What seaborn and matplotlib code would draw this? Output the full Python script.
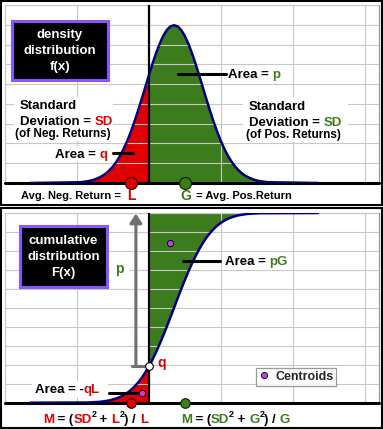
import numpy as np
import matplotlib
matplotlib.use("Agg")
import matplotlib.pyplot as plt
import seaborn as sns
from matplotlib.patches import Rectangle
from matplotlib.lines import Line2D

x_vals = [-1.65,
          -0.95, -0.90, -0.85, -0.80, -0.75, -0.70, -0.65, -0.60, -0.55, -0.50,
          -0.45, -0.40, -0.35, -0.30, -0.25, -0.20, -0.15, -0.10, -0.05, 0.00,
          0.05, 0.10, 0.15, 0.20, 0.25, 0.30, 0.35, 0.40, 0.45, 0.50,
          0.55, 0.60, 0.65, 0.70, 0.75, 0.80, 0.85, 0.90, 0.95, 1.00,
          1.05, 1.10, 1.15, 1.20, 1.25, 1.30, 1.35, 1.40, 1.45, 1.50,
          1.55, 1.60, 1.65,
          2.35]

# density f(x)
density = [0.0,
           0.005, 0.008, 0.011, 0.016, 0.023, 0.032, 0.044, 0.059, 0.079, 0.104,
           0.135, 0.172, 0.216, 0.266, 0.324, 0.388, 0.457, 0.530, 0.605, 0.680,
           0.753, 0.820, 0.880, 0.930, 0.967, 0.990, 0.997, 0.990, 0.967, 0.930,
           0.880, 0.820, 0.753, 0.680, 0.605, 0.530, 0.457, 0.388, 0.324, 0.266,
           0.216, 0.172, 0.135, 0.104, 0.079, 0.059, 0.044, 0.032, 0.023, 0.016,
           0.011, 0.008, 0.005,
           0.0]

# cumulative F(x)
cumulative = [0.0,
              0.001, 0.001, 0.001, 0.002, 0.003, 0.004, 0.006, 0.009, 0.012, 0.017,
              0.023, 0.030, 0.040, 0.052, 0.067, 0.085, 0.106, 0.130, 0.159, 0.191,
              0.227, 0.266, 0.309, 0.354, 0.401, 0.450, 0.500, 0.550, 0.599, 0.646,
              0.692, 0.734, 0.773, 0.809, 0.841, 0.870, 0.894, 0.915, 0.933, 0.948,
              0.960, 0.970, 0.977, 0.983, 0.988, 0.991, 0.994, 0.996, 0.997, 0.998,
              0.999, 0.999, 0.999,
              1.0]

avg_neg = -0.25   # L
avg_pos = 0.50    # G
centroid_x = [-0.10, 0.30]
centroid_y = [0.05, 0.84]

RED = '#e00000'
GREEN = '#3c7c1c'
NAVY = '#000080'
PURPLE = '#c040f0'
BOXEDGE = '#8855ff'
GRAY = '#707070'

W, H = 383, 429


def fxy(px, py):
    return px / W, 1 - py / H


sns.set_theme(style='whitegrid', rc={'grid.color': '#c8c8c8', 'grid.linewidth': 0.8,
                                     'axes.edgecolor': '#909090', 'axes.linewidth': 0.8})
plt.rcParams['font.family'] = ['Liberation Sans', 'DejaVu Sans']

fig = plt.figure(figsize=(W / 100, H / 100), dpi=100)
ax1 = fig.add_axes([5 / W, 1 - 183 / H, 374 / W, 178 / H])
ax2 = fig.add_axes([5 / W, 1 - 402.7 / H, 374 / W, 189.7 / H])

xs = np.array(x_vals)
d = np.array(density)
c = np.array(cumulative)
neg = xs <= 0
pos = xs >= 0
q = cumulative[x_vals.index(0.0)]

for ax in (ax1, ax2):
    ax.set_xlim(-2.0, 3.2)
    ax.set_xticks([-2, -1, 0, 1, 2, 3])
    ax.tick_params(left=False, bottom=False, labelleft=False, labelbottom=False)
    ax.set_axisbelow(False)
    ax.set_xlabel('')
    ax.set_ylabel('')

ax1.set_ylim(0, 1.125)
ax1.set_yticks(np.linspace(0, 1.125, 10))
ax2.set_ylim(0, 1.0)
ax2.set_yticks(np.linspace(0, 1.0, 11))

# --- density panel ---
ax1.fill_between(xs, 0, d, where=neg, color=RED, lw=0, zorder=1)
ax1.fill_between(xs, 0, d, where=pos, color=GREEN, lw=0, zorder=1)
sns.lineplot(x=x_vals, y=density, ax=ax1, color=NAVY, lw=1.8, zorder=5)
ax1.axvline(0, color='black', lw=1.6, zorder=4)
ax1.axhline(0, color='black', lw=2.2, zorder=4, clip_on=False)
sns.scatterplot(x=[avg_neg], y=[0], ax=ax1, color=RED, s=75, edgecolor='#300000',
                linewidth=0.8, zorder=6, clip_on=False)
sns.scatterplot(x=[avg_pos], y=[0], ax=ax1, color=GREEN, s=75, edgecolor='#102000',
                linewidth=0.8, zorder=6, clip_on=False)
ax1.plot([-0.50, -0.22], [0.19, 0.19], color='black', lw=2.2, zorder=7)
ax1.plot([0.41, 1.07], [0.689, 0.689], color='black', lw=2.2, zorder=7)

# --- cumulative panel ---
ax2.fill_between(xs, 0, c, where=neg, color=RED, lw=0, zorder=1)
ax2.fill_between(xs, c, 1, where=pos, color=GREEN, lw=0, zorder=1)
sns.lineplot(x=x_vals, y=cumulative, ax=ax2, color=NAVY, lw=1.8, zorder=5)
ax2.axvline(0, color='black', lw=1.6, zorder=4)
ax2.axhline(0, color='black', lw=2.2, zorder=4, clip_on=False)
ax2.annotate('', xy=(-0.18, 0.997), xytext=(-0.18, q),
             arrowprops=dict(arrowstyle='-|>,head_length=0.45,head_width=0.3',
                             color=GRAY, lw=2.2, shrinkA=0, shrinkB=0), zorder=4)
ax2.plot([-0.23, -0.02], [q, q], color=GRAY, lw=2.2, zorder=4)
sns.scatterplot(x=[avg_neg], y=[0], ax=ax2, color=RED, s=48, edgecolor='#300000',
                linewidth=0.8, zorder=6, clip_on=False)
sns.scatterplot(x=[avg_pos], y=[0], ax=ax2, color=GREEN, s=48, edgecolor='#102000',
                linewidth=0.8, zorder=6, clip_on=False)
ax2.plot([0], [q], 'o', ms=5.5, mfc='white', mec='black', mew=0.8, zorder=7)
sns.scatterplot(x=centroid_x, y=centroid_y, ax=ax2, color=PURPLE, s=20,
                edgecolor='black', linewidth=0.6, zorder=7)
ax2.plot([-0.55, -0.16], [0.052, 0.052], color='black', lw=2.2, zorder=7)
ax2.plot([0.47, 0.99], [0.747, 0.747], color='black', lw=2.2, zorder=7)

handle = Line2D([], [], marker='o', ls='', mfc=PURPLE, mec='black', mew=0.6, ms=4.5)
leg = ax2.legend([handle], ['Centroids'], loc='upper left',
                 bbox_to_anchor=fxy(255.7, 367.7), bbox_transform=fig.transFigure,
                 frameon=True, fancybox=False, borderpad=0.25, handlelength=0.8,
                 handletextpad=0.5, borderaxespad=0,
                 prop={'size': 9, 'weight': 'bold'})
leg.get_frame().set_edgecolor('#808080')
leg.get_frame().set_linewidth(0.9)

# --- frames, boxes, white patches behind labels ---
fig.add_artist(Rectangle(fxy(1, 205.5), 380.5 / W, 204.5 / H, transform=fig.transFigure,
                         fill=False, ec='black', lw=1.5))
fig.add_artist(Rectangle(fxy(1, 427.5), 380.5 / W, 219 / H, transform=fig.transFigure,
                         fill=False, ec='black', lw=1.5))
for (x0, y0, x1, y1) in [(14, 97, 113, 141), (243, 97, 348, 142), (52, 146, 111, 162),
                         (32, 381, 108, 397), (110, 263, 129, 277)]:
    fig.add_artist(Rectangle(fxy(x0, y1), (x1 - x0) / W, (y1 - y0) / H,
                             transform=fig.transFigure, fc='white', ec='none', zorder=1))
fig.add_artist(Rectangle(fxy(12, 80), 96 / W, 59 / H, transform=fig.transFigure,
                         fc='black', ec=BOXEDGE, lw=2.2, zorder=2))
fig.add_artist(Rectangle(fxy(20, 287), 87 / W, 61 / H, transform=fig.transFigure,
                         fc='black', ec=BOXEDGE, lw=2.2, zorder=2))

renderer = fig.canvas.get_renderer()


def advance(s, size):
    probe = fig.text(0, 0, '|' + s + '|', fontsize=size, fontweight='bold')
    ref = fig.text(0, 0, '||', fontsize=size, fontweight='bold')
    w = probe.get_window_extent(renderer).width - ref.get_window_extent(renderer).width
    probe.remove()
    ref.remove()
    return w


def rich_text(px, py, parts, size, ha='left'):
    x = px
    for s, col, sup in parts:
        fs = size * 0.68 if sup else size
        y = py - 5.5 if sup else py
        fig.text(*fxy(x, y), s, fontsize=fs, fontweight='bold', color=col,
                 ha='left', va='baseline', zorder=3)
        x += advance(s, fs)


def label(px, py, s, size, color='black', ha='left'):
    fig.text(*fxy(px, py), s, fontsize=size, fontweight='bold', color=color,
             ha=ha, va='baseline', zorder=3)


# top panel text
label(60, 38.3, 'density', 9.5, 'white', 'center')
label(60, 54, 'distribution', 9.5, 'white', 'center')
label(60, 70, 'f(x)', 9.5, 'white', 'center')
label(20, 109.3, 'Standard', 9.5)
rich_text(20, 125, [('Deviation = ', 'black', 0), ('SD', RED, 0)], 9.5)
label(15, 136.7, '(of Neg. Returns)', 8.5)
rich_text(55, 158.3, [('Area = ', 'black', 0), ('q', RED, 0)], 9.5)
rich_text(228, 78.3, [('Area = ', 'black', 0), ('p', GREEN, 0)], 9.5)
label(249, 110, 'Standard', 9.5)
rich_text(249, 126, [('Deviation = ', 'black', 0), ('SD', GREEN, 0)], 9.5)
label(246, 138, '(of Pos. Returns)', 8.5)
label(21, 199, 'Avg. Neg. Return =', 8)
label(131, 200, 'L', 10, RED, 'center')
label(186, 200, 'G', 10, GREEN, 'center')
label(196, 199, '= Avg. Pos.Return', 8)

# bottom panel text
label(63.5, 244.3, 'cumulative', 9.5, 'white', 'center')
label(63.5, 260, 'distribution', 9.5, 'white', 'center')
label(63.5, 276, 'F(x)', 9.5, 'white', 'center')
label(119.5, 272.7, 'p', 10, GREEN, 'center')
label(157, 367.3, 'q', 10, RED)
rich_text(35, 393.3, [('Area = -', 'black', 0), ('qL', RED, 0)], 9.5)
rich_text(225, 265, [('Area = ', 'black', 0), ('pG', GREEN, 0)], 9.5)
rich_text(43, 422.7, [('M', RED, 0), (' = (', 'black', 0), ('SD', RED, 0), ('2', 'black', 1),
                      (' + ', 'black', 0), ('L', RED, 0), ('2', 'black', 1),
                      (') / ', 'black', 0), ('L', RED, 0)], 9.5)
rich_text(180.7, 422.7, [('M', GREEN, 0), (' = (', 'black', 0), ('SD', GREEN, 0), ('2', 'black', 1),
                         (' + ', 'black', 0), ('G', GREEN, 0), ('2', 'black', 1),
                         (') / ', 'black', 0), ('G', GREEN, 0)], 9.5)

fig.savefig('out.png', dpi=100)
